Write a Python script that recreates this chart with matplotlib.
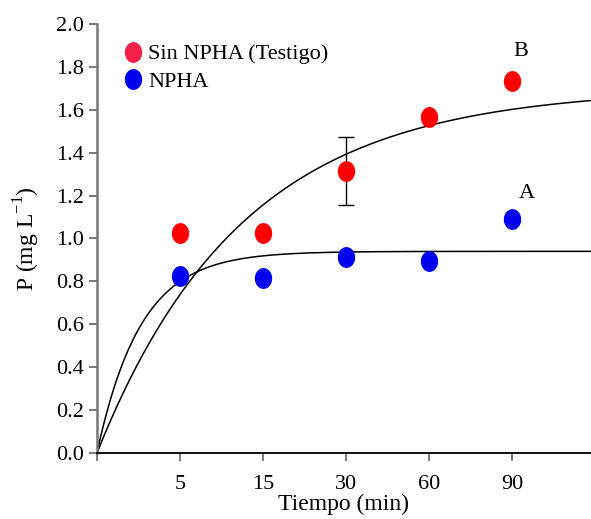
import matplotlib.pyplot as plt
import numpy as np
from matplotlib.path import Path
from matplotlib.lines import Line2D

plt.rcParams["font.family"] = ["Liberation Serif", "DejaVu Serif"]
plt.rcParams["mathtext.fontset"] = "custom"
plt.rcParams["mathtext.rm"] = "Liberation Serif"

tiempos = ["5", "15", "30", "60", "90"]
testigo = [1.025, 1.025, 1.315, 1.565, 1.735]
testigo_err = [0.0, 0.0, 0.16, 0.0, 0.0]
npha = [0.825, 0.815, 0.912, 0.895, 1.092]

# fitted curves y = a * (1 - exp(-k x)), x in category positions
fit_testigo = (1.70, 0.57)
fit_npha = (0.94, 1.9)

fig = plt.figure(figsize=(5.91, 5.19), dpi=100)
ax = fig.add_axes([0.164, 0.127, 0.836, 0.827])

pos = np.arange(1, len(tiempos) + 1)
xx = np.linspace(0, 5.95, 300)
for a, k in (fit_testigo, fit_npha):
    ax.plot(xx, a * (1 - np.exp(-k * xx)), color="black", lw=1.1, zorder=2)

t = np.linspace(0, 2 * np.pi, 60)
ell = Path(np.column_stack([0.82 * np.cos(t), np.sin(t)]), closed=True)

ax.errorbar(pos, testigo, yerr=testigo_err, fmt="none", ecolor="black",
            elinewidth=1.0, capsize=6, zorder=3)
ax.plot(pos, testigo, ls="none", marker=ell, ms=14, color="#ff0000", zorder=4)
ax.plot(pos, npha, ls="none", marker=ell, ms=14, color="#0000ee", zorder=4)

ax.text(5.1, 1.87, "B", fontsize=16, ha="center", va="center")
ax.text(5.18, 1.21, "A", fontsize=16, ha="center", va="center")

handles = [
    Line2D([], [], ls="none", marker=ell, ms=14, color="#f5204a"),
    Line2D([], [], ls="none", marker=ell, ms=14, color="#0000ee"),
]
ax.legend(handles, ["Sin NPHA (Testigo)", "NPHA"], loc="upper left",
          bbox_to_anchor=(0.005, 1.0), frameon=False, fontsize=16,
          handletextpad=0.1, labelspacing=0.3, handlelength=1.2)

ax.set_xlim(0, 5.95)
ax.set_ylim(0, 2.0)
ax.set_xticks(np.arange(0, len(tiempos) + 1))
ax.set_xticklabels([""] + tiempos)
ax.set_yticks(np.arange(0, 2.01, 0.2))
ax.set_yticklabels([f"{v:.1f}" for v in np.arange(0, 2.01, 0.2)])
ax.tick_params(axis="both", labelsize=16, length=6, width=1.1,
               color="#555555")
ax.tick_params(axis="x", pad=10)
ax.spines["top"].set_visible(False)
ax.spines["right"].set_visible(False)
ax.spines["left"].set_color("#777777")
ax.spines["left"].set_linewidth(1.8)
ax.spines["bottom"].set_linewidth(1.3)

ax.set_xlabel("Tiempo (min)", fontsize=17, labelpad=0)
ax.set_ylabel("P (mg L$^{-1}$)", fontsize=17, labelpad=10)

fig.savefig("out.png", dpi=100)
